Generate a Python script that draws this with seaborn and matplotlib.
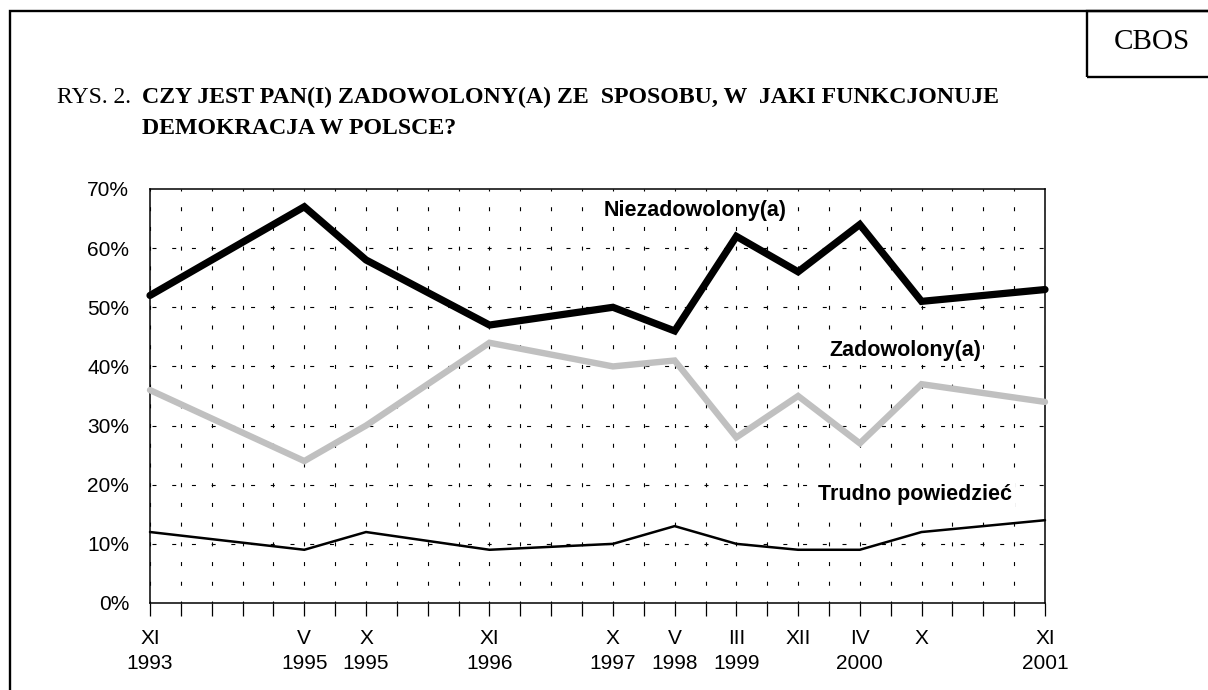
import matplotlib
matplotlib.use("Agg")
import matplotlib.pyplot as plt
from matplotlib.patches import Rectangle
import seaborn as sns
import pandas as pd

# ---- data ----
# 30 equally spaced slots on the category axis; survey waves sit on labelled slots
slot_labels = ["XI\n1993", "", "", "", "", "V\n1995", "", "X\n1995", "", "", "",
               "XI\n1996", "", "", "", "X\n1997", "", "V\n1998", "", "III\n1999", "",
               "XII", "", "IV\n2000", "", "X", "", "", "", "XI\n2001"]
niezadowolony = [52, 67, 58, 47, 50, 46, 62, 56, 64, 51, 53]
zadowolony = [36, 24, 30, 44, 40, 41, 28, 35, 27, 37, 34]
trudno = [12, 9, 12, 9, 10, 13, 10, 9, 9, 12, 14]
y_ticks = [0, 10, 20, 30, 40, 50, 60, 70]
series_names = ["Niezadowolony(a)", "Zadowolony(a)", "Trudno powiedzieć"]

title_prefix = "RYS. 2. "
title_line1 = "CZY JEST PAN(I) ZADOWOLONY(A) ZE  SPOSOBU, W  JAKI FUNKCJONUJE"
title_line2 = "DEMOKRACJA W POLSCE?"

# ---- build table ----
wave_slots = [i for i, s in enumerate(slot_labels) if s != ""]
df = pd.DataFrame({
    "slot": wave_slots * 3,
    "value": niezadowolony + zadowolony + trudno,
    "series": [series_names[0]] * 11 + [series_names[1]] * 11 + [series_names[2]] * 11,
})

sns.set_theme(style="white")
plt.rcParams["lines.scale_dashes"] = False
plt.rcParams["font.family"] = ["Liberation Sans", "DejaVu Sans"]
plt.rcParams["text.color"] = "black"
plt.rcParams["xtick.color"] = "black"
plt.rcParams["ytick.color"] = "black"
plt.rcParams["xtick.labelcolor"] = "black"
plt.rcParams["ytick.labelcolor"] = "black"

W, H = 1208, 690
fig = plt.figure(figsize=(W / 100, H / 100), dpi=100)
ax_l, ax_r, ax_t, ax_b = 150, 1045, 189, 603
ax = fig.add_axes([ax_l / W, 1 - ax_b / H, (ax_r - ax_l) / W, (ax_b - ax_t) / H])

styles = {
    series_names[0]: dict(color="black", lw=5.2),
    series_names[1]: dict(color="#c0c0c0", lw=4.6),
    series_names[2]: dict(color="black", lw=1.8),
}
for name in [series_names[2], series_names[1], series_names[0]]:
    sub = df[df["series"] == name]
    sns.lineplot(data=sub, x="slot", y="value", ax=ax, color=styles[name]["color"],
                 linewidth=styles[name]["lw"], legend=False, zorder=3, clip_on=False,
                 solid_joinstyle="miter", solid_capstyle="round")

ax.set_xlim(0, len(slot_labels) - 1)
ax.set_ylim(0, 70)
ax.set_xticks(range(len(slot_labels)))
ax.set_xticklabels(slot_labels, fontsize=15, linespacing=1.4)
ax.set_yticks(y_ticks)
ax.set_yticklabels([f"{v}%" for v in y_ticks], fontsize=15)
ax.set_xlabel("")
ax.set_ylabel("")
ax.tick_params(axis="x", direction="out", length=9.4, width=0.9, color="black",
               pad=9, bottom=True)
ax.tick_params(axis="y", length=0, pad=15, left=True)

for sp in ax.spines.values():
    sp.set_visible(True)
    sp.set_color("black")
    sp.set_linewidth(1.1)

# dashed grid (pixel-based dash pattern, 1px = 0.72pt)
px = 0.72
period = (ax_b - ax_t) / 7 / 3
ax.grid(False)
for i in range(len(slot_labels)):
    ax.axvline(i, color="black", lw=0.8, zorder=1,
               linestyle=(2 * px, (4 * px, (period - 4) * px)))
for v in y_ticks[1:-1]:
    ax.axhline(v, color="black", lw=0.8, zorder=1,
               linestyle=((period - 2) * px, (4 * px, (period - 4) * px)))

# series labels
box = dict(facecolor="white", edgecolor="none", pad=1.5)
ax.text(17.66, 66.4, series_names[0], ha="center", va="center", fontsize=15.5,
        fontweight="bold", zorder=4, bbox=box)
ax.text(24.47, 42.7, series_names[1], ha="center", va="center", fontsize=15.5,
        fontweight="bold", zorder=4, bbox=box)
ax.text(24.8, 18.4, series_names[2], ha="center", va="center", fontsize=15.5,
        fontweight="bold", zorder=4, bbox=box)

# title
serif = ["Liberation Serif", "DejaVu Serif"]
fig.text(57 / W, 1 - 103 / H, title_prefix, family=serif, fontsize=17,
         ha="left", va="baseline")
fig.text(142 / W, 1 - 103 / H, title_line1, family=serif, fontsize=17.2,
         fontweight="bold", ha="left", va="baseline")
fig.text(142 / W, 1 - 134 / H, title_line2, family=serif, fontsize=17.2,
         fontweight="bold", ha="left", va="baseline")

# outer frame and CBOS box
fig.add_artist(Rectangle((10 / W, -0.1), 1.2, 1.1 - 11 / H, transform=fig.transFigure,
                         fill=False, lw=1.7, edgecolor="black"))
fig.add_artist(Rectangle((1087 / W, 1 - 77 / H), 0.2, 66 / H, transform=fig.transFigure,
                         fill=False, lw=1.7, edgecolor="black"))
fig.text(1152 / W, 1 - 42 / H, "CBOS", family=serif, fontsize=21, ha="center", va="center")

fig.savefig("out.png", dpi=100)
